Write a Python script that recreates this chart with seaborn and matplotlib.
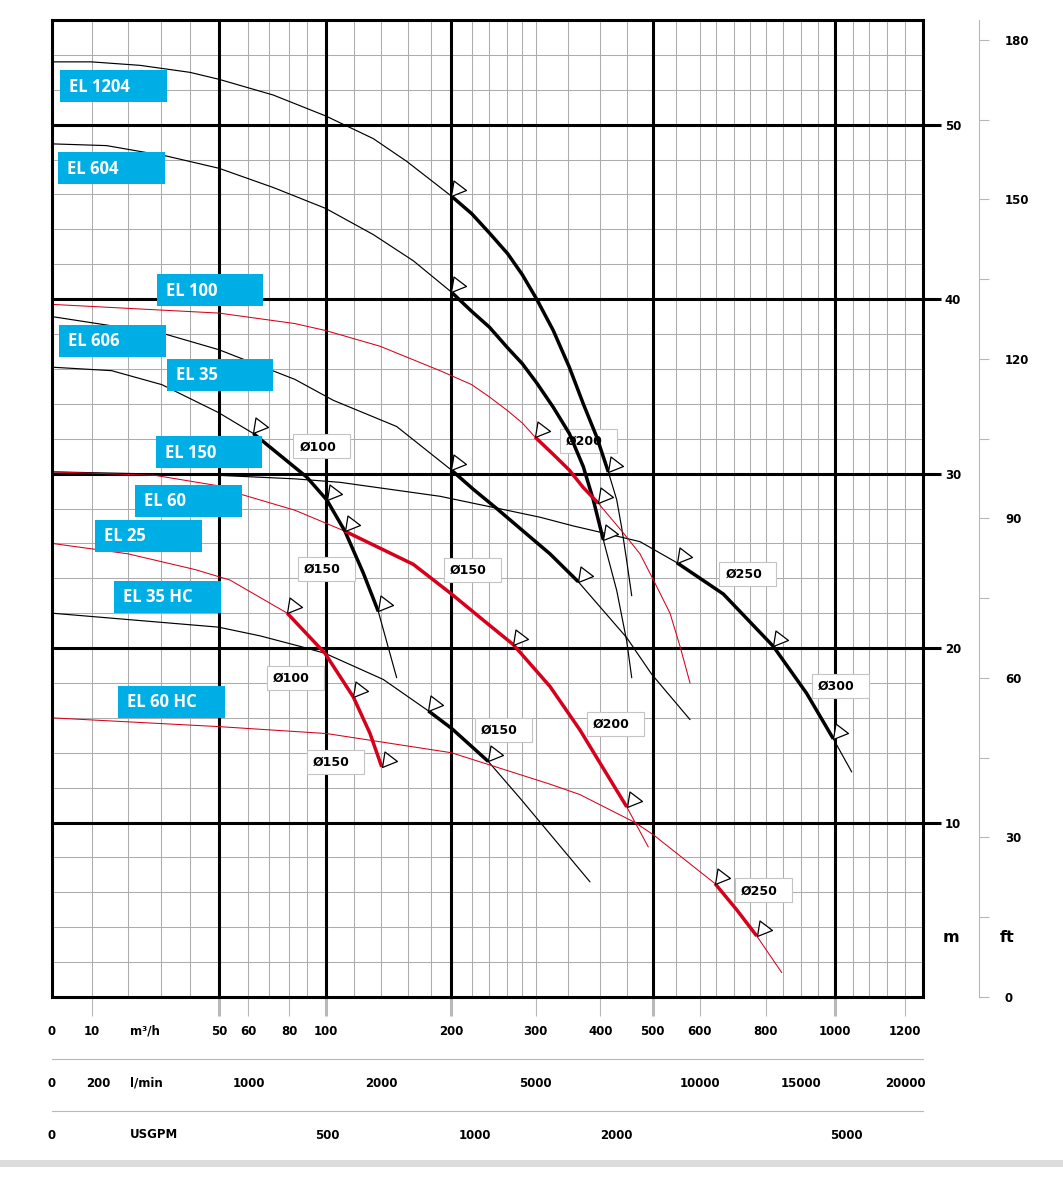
import numpy as np
import pandas as pd
import matplotlib
matplotlib.use("Agg")
import matplotlib.pyplot as plt
from matplotlib.path import Path
from matplotlib.patches import Rectangle
from matplotlib.ticker import FixedLocator, NullLocator
import seaborn as sns

# ---------------- data: flow Q (m3/h) and head H (m) ----------------
EL1204_Q = [0, 10, 23.7, 39.8, 50, 71.9, 100, 134.3, 159.0, 200, 219.4, 240, 260.6, 280.9, 301.5, 327, 351.6, 373.4, 394.4, 414.8, 430.4, 439.6, 448.9, 458.7]
EL1204_H = [53.6, 53.6, 53.4, 53.0, 52.6, 51.7, 50.5, 49.2, 47.9, 45.9, 44.9, 43.8, 42.6, 41.4, 40.0, 38.2, 36.1, 34.0, 32.1, 30.1, 28.5, 26.9, 25.0, 23.0]

EL604_Q = [0, 14.2, 31.8, 50, 71.9, 100, 134.3, 164.6, 200, 219.4, 240, 260.6, 280.9, 301.5, 327, 351.6, 373.4, 389, 405.6, 430.4, 448.9, 458.7]
EL604_H = [48.9, 48.8, 48.2, 47.5, 46.4, 45.2, 43.7, 42.2, 40.4, 39.3, 38.4, 37.2, 36.3, 35.2, 33.8, 32.3, 30.4, 28.5, 26.2, 23.3, 20.4, 18.3]

EL100_Q = [0, 50, 83.2, 100, 139.3, 188.8, 219.4, 240, 260.6, 280.9, 299, 327, 351.6, 373.4, 396.9, 442.6, 475, 498, 537.6, 559, 579.8]
EL100_H = [39.7, 39.2, 38.6, 38.2, 37.3, 35.9, 35.1, 34.4, 33.6, 32.9, 32.1, 31.1, 30.2, 29.2, 28.3, 26.6, 25.4, 24.1, 22.0, 20.1, 18.0]

EL606_Q = [0, 31.2, 50, 83.2, 105.4, 151.6, 200, 221.2, 248.2, 282.3, 321.9, 365.6, 448.8, 498, 579.8]
EL606_H = [39.0, 38.0, 37.1, 35.4, 34.2, 32.7, 30.2, 29.1, 28.0, 26.7, 25.4, 23.8, 20.6, 18.5, 15.9]

EL35_Q = [0, 15.6, 30.1, 49.8, 62.3, 89.6, 100.7, 113.6, 126.9, 138, 151.6]
EL35_H = [36.1, 35.9, 35.1, 33.5, 32.3, 29.8, 28.5, 26.7, 24.3, 22.1, 18.3]

EL150_Q = [0, 50, 83.2, 110.1, 188.8, 221.2, 259.6, 306.6, 357.8, 405.6, 475, 552.1, 669.4, 821.6, 917, 994.9, 1047.2]
EL150_H = [30.1, 29.9, 29.7, 29.5, 28.7, 28.3, 27.9, 27.5, 27.0, 26.6, 26.1, 24.9, 23.1, 20.1, 17.4, 14.8, 12.9]

EL60_Q = [0, 28.1, 49.8, 57.7, 83.2, 113.6, 164.6, 200, 232.9, 268.3, 321.9, 368.3, 405.6, 448.9, 491.3]
EL60_H = [30.1, 29.9, 29.3, 28.8, 27.9, 26.7, 24.8, 23.1, 21.6, 20.2, 17.8, 15.3, 13.1, 10.9, 8.6]

EL25_Q = [0, 20.2, 41.6, 53.7, 79.1, 99.6, 119.5, 131.9, 140.5]
EL25_H = [26.0, 25.4, 24.5, 23.9, 22.0, 19.7, 17.2, 15.1, 13.2]

EL35HC_Q = [0, 49.8, 65.5, 85.9, 99.6, 141.7, 177.7, 200, 238.8, 277.6, 329.6, 383.9]
EL35HC_H = [22.0, 21.2, 20.7, 20.1, 19.7, 18.2, 16.4, 15.4, 13.5, 11.4, 9.0, 6.6]

EL60HC_Q = [0, 49.8, 100.7, 200, 321.9, 368.3, 465.2, 501.3, 646.1, 707.8, 771.9, 845.5]
EL60HC_H = [16.0, 15.5, 15.1, 14.0, 12.2, 11.6, 10.0, 9.3, 6.5, 5.0, 3.5, 1.4]

# operating range (index of first / last point) and marker points (indices)
EL1204_RANGE, EL1204_MARKS = (9, 19), [9, 19]
EL604_RANGE, EL604_MARKS = (8, 18), [8, 18]
EL100_RANGE, EL100_MARKS = (10, 14), [10, 14]
EL606_RANGE, EL606_MARKS = (6, 11), [6, 11]
EL35_RANGE, EL35_MARKS = (4, 9), [4, 6, 9]
EL150_RANGE, EL150_MARKS = (11, 15), [11, 13, 15]
EL60_RANGE, EL60_MARKS = (5, 13), [5, 9, 13]
EL25_RANGE, EL25_MARKS = (4, 8), [4, 6, 8]
EL35HC_RANGE, EL35HC_MARKS = (6, 8), [6, 8]
EL60HC_RANGE, EL60HC_MARKS = (8, 10), [8, 10]

MODEL_NAMES = ["EL 1204", "EL 604", "EL 100", "EL 606", "EL 35", "EL 150", "EL 60", "EL 25", "EL 35 HC", "EL 60 HC"]
DIAMETER_LABELS = ["Ø100", "Ø150", "Ø150", "Ø200", "Ø200", "Ø100", "Ø150", "Ø150", "Ø250", "Ø300", "Ø250"]

M3H_TICKS = [0, 10, 50, 60, 80, 100, 200, 300, 400, 500, 600, 800, 1000, 1200]
M3H_LABELS = ["0", "10", "50", "60", "80", "100", "200", "300", "400", "500", "600", "800", "1000", "1200"]
LPM_LABELS = ["0", "200", "1000", "2000", "5000", "10000", "15000", "20000"]
USGPM_LABELS = ["0", "500", "1000", "2000", "5000"]
M_TICKS = [10, 20, 30, 40, 50]
FT_TICKS = [0, 30, 60, 90, 120, 150, 180]

# ---------------- layout / scale (pixels of the 1063x1181 canvas) ----------------
W, Hpx = 1063, 1181
KNOT_Q = [0, 10, 20, 30, 40, 50, 60, 70, 80, 90, 100, 120, 140, 160, 180, 200, 220, 240, 260, 280, 300,
          350, 400, 450, 500, 550, 600, 650, 700, 750, 800, 850, 900, 950, 1000, 1050, 1100, 1150, 1200, 1250]
KNOT_PX = [52, 91.5, 127.5, 161.5, 190.5, 219, 248.5, 269.5, 289, 307.5, 325.7, 354, 381, 408, 431, 451.5,
           472.3, 489.3, 507.3, 521.7, 535.7, 568.3, 600.3, 627.3, 652.7, 675.7, 699.7, 716.3, 734.3, 749.7,
           765.7, 783.3, 800.7, 818.3, 835, 852.7, 869.3, 887.3, 905, 923.3]
GRID_MAJOR_Q = [50, 100, 200, 500, 1000]
LPM_TICK_POS = [0, 12, 60, 140, 300, 600, 900, 1200]       # where the l/min ticks sit on the m3/h scale
USGPM_TICK_POS = [0, 101.4, 222.8, 429.8, 1032.5]          # where the USGPM ticks sit on the m3/h scale

KQ = np.array(KNOT_Q, float)
KP = np.array(KNOT_PX, float)


def _lin(x, xs, ys):
    x = np.asarray(x, dtype=float)
    y = np.interp(x, xs, ys)
    y = np.where(x < xs[0], ys[0] + (x - xs[0]) * (ys[1] - ys[0]) / (xs[1] - xs[0]), y)
    y = np.where(x > xs[-1], ys[-1] + (x - xs[-1]) * (ys[-1] - ys[-2]) / (xs[-1] - xs[-2]), y)
    return y


def fwd(q):
    return _lin(q, KQ, KP)


def inv(p):
    return _lin(p, KP, KQ)


def fx(px):
    return px / W


def fy(py):
    return 1 - py / Hpx


sns.set_theme(style="white")
plt.rcParams['font.family'] = ['DejaVu Sans']
plt.rcParams['font.weight'] = 'bold'
plt.rcParams['axes.unicode_minus'] = False
plt.rcParams['text.color'] = 'black'
plt.rcParams['xtick.labelcolor'] = 'black'
plt.rcParams['ytick.labelcolor'] = 'black'

RED = '#d6001c'
BLACK = '#000000'
GRID_GRAY = '#acacac'
AXIS_GRAY = '#b8b8b8'
CYAN = '#00aee6'

fig = plt.figure(figsize=(W / 100, Hpx / 100), dpi=100)
AX_L, AX_R, AX_T, AX_B = 52, 923.3, 20, 997
ax = fig.add_axes([fx(AX_L), fy(AX_B), (AX_R - AX_L) / W, (AX_B - AX_T) / Hpx])
ax.set_xscale('function', functions=(fwd, inv))
ax.set_xlim(0, 1250)
ax.set_ylim(0, 56)
ax.grid(False)

# grid
for q in KNOT_Q[1:-1]:
    if q in GRID_MAJOR_Q:
        ax.axvline(q, color=BLACK, lw=2.2, zorder=1.5)
    else:
        ax.axvline(q, color=GRID_GRAY, lw=0.75, zorder=1)
for h in range(2, 56, 2):
    if h % 10 == 0:
        ax.axhline(h, color=BLACK, lw=2.2, zorder=1.5)
    else:
        ax.axhline(h, color=GRID_GRAY, lw=0.75, zorder=1)
for s in ax.spines.values():
    s.set_visible(True)
    s.set_color(BLACK)
    s.set_linewidth(2.2)
    s.set_zorder(5)

# curves
TRI = Path([(0, 0), (2.5, 15.5), (15, 6), (0, 0)],
           [Path.MOVETO, Path.LINETO, Path.LINETO, Path.CLOSEPOLY])

CURVES = [
    (EL1204_Q, EL1204_H, BLACK, EL1204_RANGE, EL1204_MARKS),
    (EL604_Q, EL604_H, BLACK, EL604_RANGE, EL604_MARKS),
    (EL606_Q, EL606_H, BLACK, EL606_RANGE, EL606_MARKS),
    (EL35_Q, EL35_H, BLACK, EL35_RANGE, EL35_MARKS),
    (EL150_Q, EL150_H, BLACK, EL150_RANGE, EL150_MARKS),
    (EL35HC_Q, EL35HC_H, BLACK, EL35HC_RANGE, EL35HC_MARKS),
    (EL100_Q, EL100_H, RED, EL100_RANGE, EL100_MARKS),
    (EL60_Q, EL60_H, RED, EL60_RANGE, EL60_MARKS),
    (EL25_Q, EL25_H, RED, EL25_RANGE, EL25_MARKS),
    (EL60HC_Q, EL60HC_H, RED, EL60HC_RANGE, EL60HC_MARKS),
]
for q, h, col, (i0, i1), marks in CURVES:
    df = pd.DataFrame({'Q': q, 'H': h})
    thin = 0.85 if col == BLACK else 0.75
    sns.lineplot(data=df, x='Q', y='H', ax=ax, color=col, lw=thin, sort=False,
                 estimator=None, legend=False, zorder=3)
    sns.lineplot(data=df.iloc[i0:i1 + 1], x='Q', y='H', ax=ax, color=col, lw=2.5, sort=False,
                 estimator=None, legend=False, zorder=4, solid_capstyle='butt')
    ax.plot(df['Q'].iloc[marks], df['H'].iloc[marks], ls='none', marker=TRI, ms=22.3,
            mfc='white', mec=BLACK, mew=0.9, zorder=6)
ax.set_xlabel('')
ax.set_ylabel('')

# diameter boxes (inside axes, under the curves)
DIA_BOX_POS = [(293.3, 434.3), (298, 557), (444, 557.5), (587, 711.5), (560, 429), (267, 665.5),
               (306.7, 750), (475, 718), (719.3, 561.7), (811.7, 674), (735, 878.3)]
for lab, (x0, y0) in zip(DIAMETER_LABELS, DIA_BOX_POS):
    r = Rectangle((fx(x0), fy(y0 + 24)), 57 / W, 24 / Hpx, transform=fig.transFigure,
                  fc='white', ec='#c4c4c4', lw=0.8, zorder=2.5)
    ax.add_artist(r)
    ax.text(fx(x0 + 6), fy(y0 + 12.5), lab, transform=fig.transFigure, ha='left', va='center',
            fontsize=9, fontweight='bold', color=BLACK, zorder=2.6)

# x axis (m3/h)
ax.set_xticks(M3H_TICKS, labels=M3H_LABELS)
ax.xaxis.set_minor_locator(NullLocator())
ax.tick_params(axis='x', which='major', direction='out', bottom=True, top=False, length=13.7,
               width=0.8, color=AXIS_GRAY, pad=6.5, labelsize=8.5, labelcolor=BLACK)
for t, v in zip(ax.xaxis.get_major_ticks(), M3H_TICKS):
    if v in GRID_MAJOR_Q:
        t.tick1line.set_color(BLACK)
        t.tick1line.set_markeredgewidth(2.2)
    elif v == 0:
        t.tick1line.set_visible(False)

# y axis (m) on the right
ax.yaxis.tick_right()
ax.set_yticks(M_TICKS, labels=[str(v) for v in M_TICKS])
ax.yaxis.set_minor_locator(NullLocator())
ax.tick_params(axis='y', which='major', direction='out', right=True, left=False, length=13,
               width=2.2, color=BLACK, pad=2.5, labelsize=8.5, labelcolor=BLACK)

# ft axis
sec = ax.secondary_yaxis(1 + (979 - AX_R) / (AX_R - AX_L),
                         functions=(lambda m: m / 0.3048, lambda f: f * 0.3048))
sec.set_yticks(FT_TICKS, labels=[str(v) for v in FT_TICKS])
sec.yaxis.set_minor_locator(FixedLocator([15, 45, 75, 105, 135, 165]))
sec.spines['right'].set_color(AXIS_GRAY)
sec.spines['right'].set_linewidth(0.8)
sec.tick_params(axis='y', which='both', direction='out', length=7.2, width=0.8, color=AXIS_GRAY,
                pad=11.5, labelsize=8.5, labelcolor=BLACK)

# extra flow rows (l/min, USGPM)
for row_y, pos, labs in [(1059.3, LPM_TICK_POS, LPM_LABELS), (1110.6, USGPM_TICK_POS, USGPM_LABELS)]:
    a = fig.add_axes([fx(AX_L), fy(row_y), (AX_R - AX_L) / W, 1e-6])
    a.set_xscale('function', functions=(fwd, inv))
    a.set_xlim(0, 1250)
    a.set_ylim(0, 1)
    a.yaxis.set_visible(False)
    a.patch.set_visible(False)
    for s in ['top', 'left', 'right']:
        a.spines[s].set_visible(False)
    a.spines['bottom'].set_color(AXIS_GRAY)
    a.spines['bottom'].set_linewidth(0.8)
    a.set_xticks(pos, labels=labs)
    a.xaxis.set_minor_locator(NullLocator())
    a.tick_params(axis='x', direction='out', length=8, width=0.8, color=AXIS_GRAY, pad=5,
                  labelsize=8.5, labelcolor=BLACK)

fig.text(fx(130), fy(1031), "m³/h", ha='left', va='center', fontsize=8.5, fontweight='bold', color=BLACK)
fig.text(fx(130), fy(1083.5), "l/min", ha='left', va='center', fontsize=8.5, fontweight='bold', color=BLACK)
fig.text(fx(130), fy(1134.5), "USGPM", ha='left', va='center', fontsize=8.5, fontweight='bold', color=BLACK)
fig.text(fx(943), fy(937), "m", ha='left', va='center', fontsize=11.5, fontweight='bold', color=BLACK)
fig.text(fx(1000), fy(937), "ft", ha='left', va='center', fontsize=11.5, fontweight='bold', color=BLACK)

# model name boxes (on top)
EL_BOX_POS = [(60, 70), (58, 152), (156.7, 274), (59, 325), (166.7, 359), (155.7, 436),
              (135, 485), (95, 520), (114.3, 581), (118.3, 685.7)]
for name, (x0, y0) in zip(MODEL_NAMES, EL_BOX_POS):
    fig.add_artist(Rectangle((fx(x0), fy(y0 + 32)), 106.5 / W, 32 / Hpx, transform=fig.transFigure,
                             fc=CYAN, ec='none', zorder=5))
    fig.text(fx(x0 + 9), fy(y0 + 16.5), name, ha='left', va='center', color='white',
             family=['Open Sans', 'DejaVu Sans'], fontsize=12, fontweight='bold', zorder=6)

# bottom separator band
fig.add_artist(Rectangle((0, fy(1167)), 1, 7 / Hpx, transform=fig.transFigure,
                         fc='#dcdcdc', ec='none', zorder=0))

fig.savefig("out.png", dpi=100)
